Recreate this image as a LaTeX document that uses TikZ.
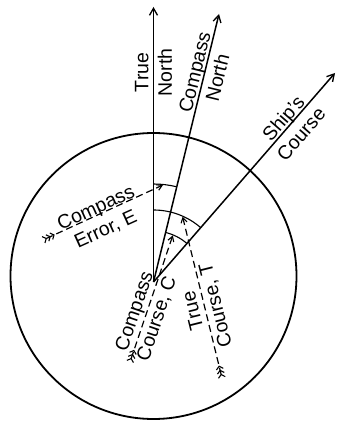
\documentclass[tikz,border=0pt]{standalone}
\usepackage{fontspec}
\setmainfont{Liberation Sans}
\usetikzlibrary{arrows.meta,calc}
\tikzset{
  mainline/.style={line width=1.5pt,-{Straight Barb[length=7pt,width=8pt,line width=1.3pt]}},
  leader/.style={line width=1.2pt,dash pattern=on 7pt off 4pt,
    {Straight Barb[reversed,length=3pt,width=7pt,line width=1.1pt]Straight Barb[reversed,length=3pt,width=7pt,line width=1.1pt]Straight Barb[reversed,length=3pt,width=7pt,line width=1.1pt]}-{Straight Barb[length=5pt,width=6pt,line width=1.1pt]}},
  arcline/.style={line width=1.1pt},
  lbl/.style={inner sep=0pt,align=center,font=\fontsize{19.5}{23.5}\selectfont}
}
\begin{document}
\begin{tikzpicture}[x=1pt,y=1pt]
\useasboundingbox (0,0) rectangle (340,421);
% circle
\coordinate (M) at (153.5,145);
\draw[line width=1.8pt] (M) circle[radius=143];
% origin and line ends
\coordinate (O) at (153.5,139);
\coordinate (TN) at (153.5,414);
\coordinate (CN) at (219,407);
\coordinate (SC) at (335,348);
\draw[mainline] (O) -- (TN);
\draw[mainline] (O) -- (CN);
\draw[mainline] (O) -- (SC);
% arcs
\draw[arcline] (O) ++(90:98) arc[start angle=90,end angle=76.3,radius=98];
\draw[arcline] (O) ++(90:72) arc[start angle=90,end angle=49,radius=72];
\draw[arcline] (O) ++(76.3:51) arc[start angle=76.3,end angle=49,radius=51];
% leader ends
\coordinate (Ef) at (43,181);
\coordinate (Ea) at ($(O)+(84.4:97.5)$);
\coordinate (Cf) at (130,59);
\coordinate (Ca) at ($(O)+(67.5:50.5)$);
\coordinate (Tf) at (222,43);
\coordinate (Ta) at ($(O)+(66:71.5)$);
\draw[leader] (Ef) -- (Ea);
\draw[leader] (Cf) -- (Ca);
\draw[leader] (Tf) -- (Ta);
% labels
\node[lbl,rotate=90] (ltn) at (153.5,348.5) {True\\North};
\node[lbl,rotate=76.3] (lcn) at (206,346) {Compass\\North};
\node[lbl,rotate=49] (lsc) at (292,295) {Ship’s\\Course};
\node[lbl,rotate=24.4] (lce) at (101,202) {Compass\\Error, E};
\node[lbl,rotate=71.3] (lcc) at (146,106) {Compass\\Course, C};
\node[lbl,rotate=104] (ltc) at (205,113) {True\\Course, T};
\end{tikzpicture}
\end{document}
